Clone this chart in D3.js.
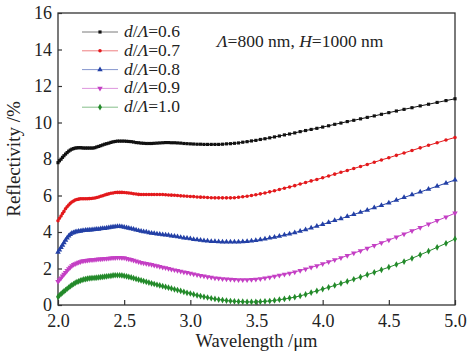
<!DOCTYPE html>
<html><head><meta charset="utf-8">
<script src="https://cdn.jsdelivr.net/npm/d3@7"></script>
<style>body{margin:0;background:#fff}svg{display:block}text{font-family:"Liberation Serif","Times New Roman",serif;fill:#222}</style>
</head><body>
<svg id="c" width="472" height="352"></svg>
<script>
const wavelength=[2.000,2.011,2.023,2.034,2.045,2.057,2.069,2.081,2.093,2.105,2.118,2.130,2.143,2.156,2.169,2.182,2.195,2.209,2.222,2.236,2.250,2.264,2.279,2.293,2.308,2.323,2.338,2.353,2.368,2.384,2.400,2.416,2.432,2.449,2.466,2.483,2.500,2.518,2.535,2.553,2.571,2.590,2.609,2.628,2.647,2.667,2.687,2.707,2.727,2.748,2.769,2.791,2.813,2.835,2.857,2.880,2.903,2.927,2.951,2.975,3.000,3.025,3.051,3.077,3.103,3.130,3.158,3.186,3.214,3.243,3.273,3.303,3.333,3.364,3.396,3.429,3.462,3.495,3.529,3.564,3.600,3.636,3.673,3.711,3.750,3.789,3.830,3.871,3.913,3.956,4.000,4.045,4.091,4.138,4.186,4.235,4.286,4.337,4.390,4.444,4.500,4.557,4.615,4.675,4.737,4.800,4.865,4.932,5.000];
const r06=[7.80,7.90,7.99,8.09,8.18,8.27,8.35,8.43,8.49,8.54,8.57,8.60,8.61,8.62,8.62,8.61,8.60,8.60,8.60,8.60,8.60,8.60,8.62,8.66,8.69,8.73,8.77,8.81,8.84,8.87,8.91,8.94,8.96,8.98,8.98,8.98,8.98,8.97,8.96,8.95,8.93,8.90,8.89,8.87,8.86,8.85,8.85,8.85,8.86,8.87,8.88,8.89,8.90,8.90,8.89,8.89,8.88,8.87,8.85,8.84,8.83,8.82,8.81,8.81,8.80,8.80,8.80,8.80,8.80,8.81,8.83,8.84,8.86,8.88,8.92,8.95,8.99,9.02,9.07,9.11,9.16,9.21,9.26,9.32,9.37,9.43,9.50,9.56,9.62,9.68,9.75,9.82,9.90,9.97,10.05,10.12,10.20,10.28,10.36,10.45,10.54,10.63,10.72,10.81,10.91,11.00,11.10,11.20,11.30];
const r07=[4.62,4.75,4.88,5.01,5.13,5.27,5.38,5.48,5.57,5.64,5.70,5.75,5.78,5.80,5.82,5.82,5.82,5.82,5.82,5.83,5.84,5.85,5.86,5.89,5.92,5.96,5.99,6.03,6.06,6.09,6.12,6.14,6.16,6.17,6.17,6.17,6.16,6.15,6.14,6.12,6.10,6.08,6.06,6.05,6.05,6.05,6.05,6.05,6.05,6.05,6.05,6.05,6.04,6.03,6.02,6.01,6.00,5.98,5.97,5.96,5.95,5.94,5.92,5.91,5.90,5.89,5.88,5.87,5.87,5.87,5.87,5.87,5.88,5.90,5.93,5.96,6.00,6.04,6.09,6.14,6.20,6.26,6.33,6.40,6.47,6.54,6.63,6.71,6.80,6.88,6.97,7.07,7.17,7.27,7.37,7.48,7.59,7.70,7.82,7.95,8.07,8.20,8.33,8.47,8.61,8.75,8.89,9.04,9.18];
const r08=[2.90,3.02,3.15,3.28,3.42,3.55,3.67,3.78,3.87,3.93,3.97,4.00,4.02,4.04,4.05,4.07,4.08,4.10,4.10,4.11,4.12,4.13,4.14,4.15,4.16,4.18,4.19,4.20,4.22,4.24,4.26,4.28,4.29,4.30,4.30,4.29,4.27,4.24,4.21,4.18,4.15,4.11,4.08,4.05,4.02,4.00,3.97,3.94,3.92,3.90,3.88,3.86,3.84,3.82,3.79,3.77,3.74,3.71,3.68,3.66,3.63,3.60,3.58,3.55,3.53,3.51,3.49,3.48,3.47,3.46,3.45,3.45,3.45,3.46,3.47,3.49,3.51,3.54,3.58,3.62,3.67,3.72,3.77,3.84,3.90,3.97,4.05,4.13,4.22,4.32,4.42,4.52,4.63,4.73,4.85,4.96,5.08,5.20,5.33,5.46,5.60,5.74,5.89,6.04,6.19,6.35,6.51,6.68,6.85];
const r09=[1.28,1.38,1.48,1.58,1.68,1.78,1.88,1.98,2.07,2.15,2.21,2.26,2.30,2.34,2.37,2.40,2.42,2.44,2.45,2.46,2.47,2.48,2.49,2.50,2.51,2.52,2.53,2.54,2.55,2.56,2.57,2.58,2.59,2.60,2.60,2.59,2.58,2.55,2.52,2.49,2.45,2.41,2.37,2.33,2.30,2.27,2.24,2.21,2.17,2.14,2.10,2.06,2.03,1.99,1.96,1.92,1.89,1.85,1.81,1.77,1.73,1.69,1.65,1.61,1.58,1.54,1.51,1.48,1.46,1.44,1.42,1.40,1.39,1.38,1.38,1.38,1.39,1.41,1.44,1.48,1.52,1.57,1.62,1.68,1.74,1.81,1.89,1.97,2.06,2.15,2.25,2.36,2.47,2.58,2.71,2.84,2.97,3.11,3.26,3.41,3.56,3.72,3.89,4.06,4.24,4.43,4.62,4.82,5.03];
const r10=[0.45,0.53,0.61,0.68,0.75,0.82,0.89,0.96,1.03,1.09,1.15,1.21,1.26,1.30,1.34,1.37,1.40,1.42,1.44,1.46,1.47,1.48,1.49,1.50,1.51,1.53,1.54,1.56,1.57,1.59,1.60,1.62,1.63,1.63,1.63,1.62,1.60,1.57,1.54,1.51,1.47,1.43,1.39,1.35,1.31,1.27,1.23,1.19,1.15,1.11,1.07,1.03,0.99,0.95,0.91,0.86,0.82,0.77,0.72,0.67,0.63,0.58,0.53,0.49,0.45,0.41,0.37,0.33,0.30,0.27,0.24,0.22,0.20,0.19,0.18,0.17,0.17,0.17,0.18,0.20,0.22,0.25,0.29,0.33,0.38,0.43,0.50,0.58,0.68,0.77,0.87,0.97,1.07,1.18,1.29,1.41,1.53,1.66,1.79,1.93,2.07,2.22,2.38,2.56,2.75,2.95,3.16,3.38,3.62];
const seriesNames=["0.6","0.7","0.8","0.9","1.0"];
const seriesValues=[r06,r07,r08,r09,r10];
const xTicks=[2.0,2.5,3.0,3.5,4.0,4.5,5.0];
const yTicks=[0,2,4,6,8,10,12,14,16];

const colors=["#111111","#e3191c","#2340a6","#c43fc4","#238a2a"];
const shapes=[d3.symbolSquare,d3.symbolCircle,d3.symbolTriangle,d3.symbolTriangle,d3.symbolDiamond];
const sizes=[10,10,13,13,13];
const rot=[0,0,0,180,0];
const FF='"Liberation Serif","Times New Roman",serif';

const svg=d3.select("#c");
const x=d3.scaleLinear().domain([2,5]).range([58,455]);
const y=d3.scaleLinear().domain([0,16]).range([305,13]);

// frame
svg.append("rect").attr("x",58).attr("y",13).attr("width",397).attr("height",292)
  .attr("fill","none").attr("stroke","#333").attr("stroke-width",1.3);

const xa=svg.append("g").attr("transform","translate(0,305)")
  .call(d3.axisBottom(x).tickValues(xTicks).tickSize(-5).tickPadding(9).tickFormat(d3.format(".1f")));
const ya=svg.append("g").attr("transform","translate(58,0)")
  .call(d3.axisLeft(y).tickValues(yTicks).tickSize(-4).tickPadding(6).tickFormat(d3.format("d")));
[xa,ya].forEach(g=>{
  g.attr("font-family",FF).attr("font-size",18);
  g.select(".domain").remove();
  g.selectAll(".tick line").attr("stroke","#333").attr("stroke-width",1.2);
  g.selectAll(".tick text").style("font-family",FF).style("font-size","18px").attr("fill","#222");
});

const line=d3.line().x((d,i)=>x(wavelength[i])).y(d=>y(d));
const plot=svg.append("g");
seriesValues.forEach((vals,k)=>{
  plot.append("path").attr("d",line(vals)).attr("fill","none").attr("stroke",colors[k]).attr("stroke-width",1);
  const sym=d3.symbol().type(shapes[k]).size(sizes[k]);
  plot.append("g").selectAll("path").data(vals).join("path")
    .attr("d",sym).attr("fill",colors[k])
    .attr("transform",(d,i)=>`translate(${x(wavelength[i])},${y(d)}) rotate(${rot[k]})`);
});

// legend
const lg=svg.append("g");
seriesNames.forEach((n,k)=>{
  const yy=32+k*18.8;
  lg.append("line").attr("x1",82).attr("x2",118).attr("y1",yy).attr("y2",yy)
    .attr("stroke",colors[k]).attr("stroke-width",1).attr("opacity",0.55);
  lg.append("path").attr("d",d3.symbol().type(shapes[k]).size(sizes[k])())
    .attr("fill",colors[k]).attr("transform",`translate(100,${yy}) rotate(${rot[k]})`);
  const t=lg.append("text").attr("x",124).attr("y",yy+5).style("font-family",FF).style("font-size","17.5px");
  t.append("tspan").attr("font-style","italic").text("d");
  t.append("tspan").text("/");
  t.append("tspan").attr("font-style","italic").text("Λ");
  t.append("tspan").text("="+n);
});

// annotation
const an=svg.append("text").attr("x",217).attr("y",47).style("font-family",FF).style("font-size","17.5px");
an.append("tspan").attr("font-style","italic").text("Λ");
an.append("tspan").text("=800 nm, ");
an.append("tspan").attr("font-style","italic").text("H");
an.append("tspan").text("=1000 nm");

// axis labels
svg.append("text").attr("x",256.5).attr("y",347).attr("text-anchor","middle").style("font-family",FF).style("font-size","18.5px").text("Wavelength /μm");
svg.append("text").attr("transform","translate(20,159) rotate(-90)").attr("text-anchor","middle").style("font-family",FF).style("font-size","19px").text("Reflectivity /%");
</script>
</body></html>
